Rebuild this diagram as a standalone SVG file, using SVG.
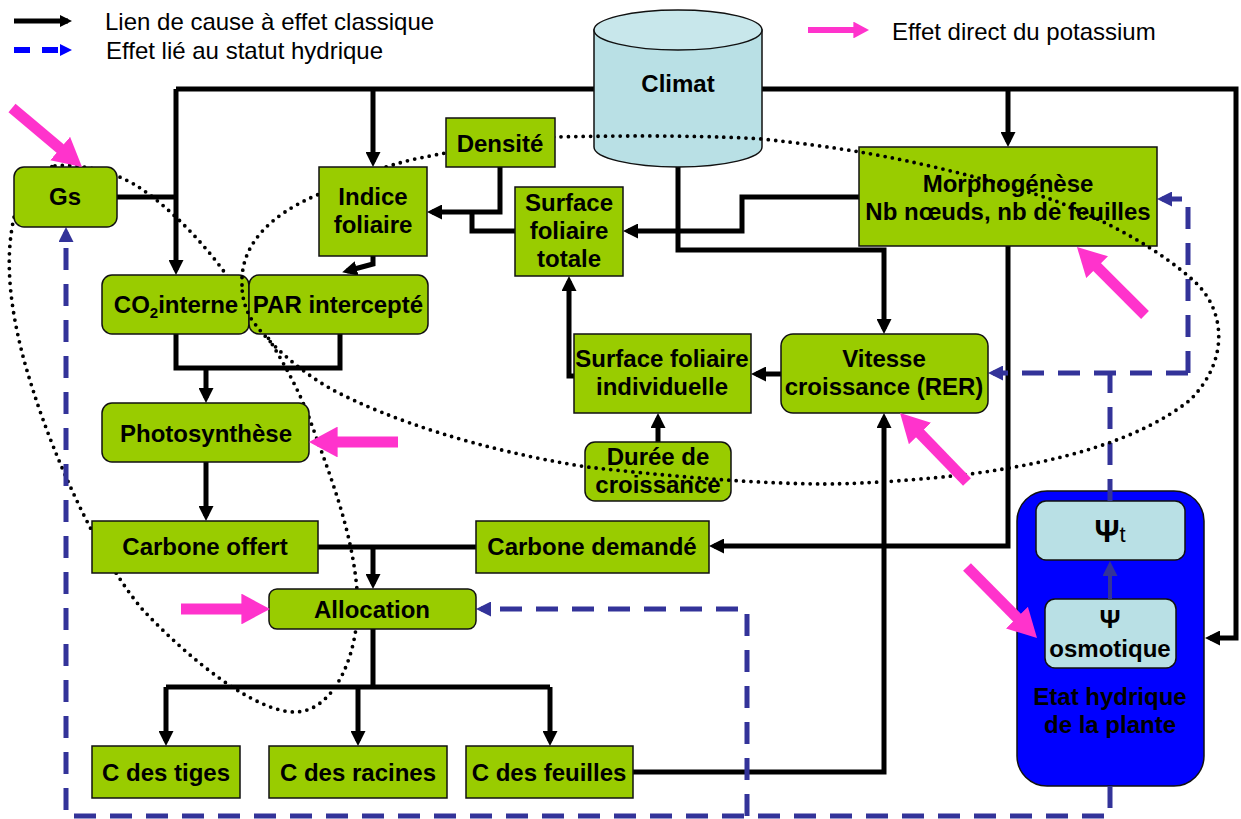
<svg xmlns="http://www.w3.org/2000/svg" width="1241" height="819" viewBox="0 0 1241 819">
<style>
.box{fill:#99CC00;stroke:#111;stroke-width:1.5}
.cy{fill:#B9E0E5;stroke:#111;stroke-width:1.5}
.t{font-family:"Liberation Sans",Arial,sans-serif;font-weight:bold;font-size:24px;text-anchor:middle;fill:#000}
.lg{font-family:"Liberation Sans",Arial,sans-serif;font-size:24px;fill:#000}
.c{fill:none;stroke:#000;stroke-width:5}
.ca{fill:none;stroke:#000;stroke-width:5;marker-end:url(#ab)}
.d{fill:none;stroke:#333399;stroke-width:5;stroke-dasharray:22 14}
.da{fill:none;stroke:#333399;stroke-width:5;stroke-dasharray:22 14;marker-end:url(#ad)}
.pk{fill:none;stroke:#FF33CC;stroke-width:11;marker-end:url(#pk)}
.dot{fill:none;stroke:#000;stroke-width:3.8;stroke-dasharray:0 7.4;stroke-linecap:round}
</style>
<defs>
<marker id="ab" markerUnits="userSpaceOnUse" markerWidth="15" markerHeight="15" refX="10" refY="7.5" orient="auto"><path d="M0,0 L15,7.5 L0,15 z" fill="#000"/></marker>
<marker id="ad" markerUnits="userSpaceOnUse" markerWidth="15" markerHeight="15" refX="10" refY="7.5" orient="auto"><path d="M0,0 L15,7.5 L0,15 z" fill="#333399"/></marker>
<marker id="lb" markerUnits="userSpaceOnUse" markerWidth="12" markerHeight="12" refX="8" refY="6" orient="auto"><path d="M0,0 L12,6 L0,12 z" fill="#000"/></marker>
<marker id="lbl" markerUnits="userSpaceOnUse" markerWidth="12" markerHeight="12" refX="8" refY="6" orient="auto"><path d="M0,0 L12,6 L0,12 z" fill="#0000FF"/></marker>
<marker id="pk" markerUnits="strokeWidth" markerWidth="2.6" markerHeight="2.8" refX="0.1" refY="1.4" orient="auto"><path d="M0,0 L2.6,1.4 L0,2.8 z" fill="#FF33CC"/></marker>
<mask id="mB" maskUnits="userSpaceOnUse" x="0" y="0" width="1241" height="819">
<rect width="1241" height="819" fill="#fff"/>
<rect x="319" y="167" width="108" height="89" fill="#000"/>
<rect x="446" y="118" width="109" height="49" fill="#000"/>
</mask>
</defs>

<!-- legend -->
<g id="legend">
<path d="M14,21 H68" stroke="#000" stroke-width="5" fill="none" marker-end="url(#lb)"/>
<text class="lg" x="105" y="30">Lien de cause à effet classique</text>
<path d="M14,50 H68" stroke="#0000FF" stroke-width="6" stroke-dasharray="16 12" fill="none" marker-end="url(#lbl)"/>
<text class="lg" x="106" y="59">Effet lié au statut hydrique</text>
<path d="M808,30 H854" stroke="#FF33CC" stroke-width="6" fill="none" marker-end="url(#pk)"/>
<text class="lg" x="892" y="40">Effet direct du potassium</text>
</g>

<!-- dotted loop behind nodes -->
<g id="loop-a">
<path class="dot" d="M55,166 C80,163 115,172 137,186 C170,207 205,245 225,273 C250,310 290,365 310,420 C330,475 352,530 357,590 C362,650 335,712 295,712 C255,712 190,660 143,610 C100,560 55,460 33,390 C15,335 5,280 11,235 C16,195 30,170 55,166 Z"/>
</g>

<!-- water-status node (under its dashed link) -->
<g id="etat-hydrique">
<rect x="1017" y="491" width="187" height="295" rx="30" fill="#0000FF" stroke="#111" stroke-width="1.5"/>
<text class="t" x="1110" y="705">Etat hydrique</text>
<text class="t" x="1110" y="733">de la plante</text>
<g id="psi-t">
<rect class="cy" x="1036" y="501" width="149" height="59" rx="10"/>
<text class="t" x="1110" y="542" style="font-size:31px">Ψ<tspan font-weight="normal" font-size="22">t</tspan></text>
</g>
<g id="psi-osmotique">
<rect class="cy" x="1045" y="599" width="131" height="69" rx="10"/>
<text class="t" x="1110" y="628" style="font-size:26px">Ψ</text>
<text class="t" x="1110" y="657">osmotique</text>
</g>
<path d="M1110,599 V566" stroke="#333399" stroke-width="4" fill="none" marker-end="url(#ad)"/>
</g>

<!-- connectors -->
<g id="connectors">
<path class="ca" d="M176,89 H1236 V638 H1210"/>
<path class="ca" d="M176,89 V270"/>
<path class="c" d="M117,197 H176"/>
<path class="ca" d="M373,89 V162"/>
<path class="ca" d="M1008,89 V142"/>
<path class="ca" d="M678,150 V250 H884 V329"/>
<path class="ca" d="M859,197 H742 V231 H628"/>
<path class="ca" d="M500,167 V212 H432"/>
<path class="c" d="M515,231 H472 V212"/>
<path class="ca" d="M373,256 V264 L347,271"/>
<path class="c" d="M176,334 V368 H340 V334"/>
<path class="ca" d="M206,368 V398"/>
<path class="ca" d="M206,462 V516"/>
<path class="c" d="M318,547 H476"/>
<path class="ca" d="M373,547 V584"/>
<path class="ca" d="M1008,246 V546 H714"/>
<path class="c" d="M373,629 V687 M166,687 H550"/>
<path class="ca" d="M166,687 V741"/>
<path class="ca" d="M358,687 V741"/>
<path class="ca" d="M550,687 V741"/>
<path class="ca" d="M633,772 H884 V418"/>
<path class="ca" d="M781,374 H756"/>
<path class="ca" d="M574,376 H569 V281"/>
<path class="ca" d="M658,442 V418"/>
<path class="d" d="M1110,501 V373"/>
<path class="da" d="M1188,373 H993"/>
<path class="da" d="M1188,373 V199 H1162"/>
<path class="da" d="M1110,786 V816 H66 V232"/>
<path class="da" d="M747,816 V609 H481"/>
</g>

<!-- nodes -->
<g id="climat">
<path class="cy" d="M594,30 V147 A84,20 0 0 0 762,147 V30 Z"/>
<ellipse cx="678" cy="30" rx="84" ry="20" fill="#C8E7EB" stroke="#111" stroke-width="1.5"/>
<text class="t" x="678" y="92">Climat</text>
</g>
<g id="gs"><rect class="box" x="14" y="167" width="103" height="60" rx="10"/><text class="t" x="65" y="205">Gs</text></g>
<g id="indice-foliaire"><rect class="box" x="319" y="167" width="108" height="89"/><text class="t" x="373" y="205">Indice</text><text class="t" x="373" y="233">foliaire</text></g>
<g id="densite"><rect class="box" x="446" y="118" width="109" height="49"/><text class="t" x="500" y="152">Densité</text></g>
<g id="surface-foliaire-totale"><rect class="box" x="515" y="187" width="108" height="89"/><text class="t" x="569" y="211">Surface</text><text class="t" x="569" y="239">foliaire</text><text class="t" x="569" y="267">totale</text></g>
<g id="morphogenese"><rect class="box" x="859" y="147" width="298" height="99"/><text class="t" x="1008" y="192">Morphogénèse</text><text class="t" x="1008" y="220">Nb nœuds, nb de feuilles</text></g>
<g id="co2-interne"><rect class="box" x="102" y="275" width="147" height="59" rx="10"/><text class="t" x="176" y="313">CO<tspan font-size="15" dy="5">2</tspan><tspan dy="-5">interne</tspan></text></g>
<g id="par-intercepte"><rect class="box" x="249" y="275" width="179" height="59" rx="10"/><text class="t" x="338" y="313">PAR intercepté</text></g>
<g id="photosynthese"><rect class="box" x="102" y="403" width="207" height="59" rx="10"/><text class="t" x="206" y="442">Photosynthèse</text></g>
<g id="surface-foliaire-individuelle"><rect class="box" x="574" y="334" width="177" height="79"/><text class="t" x="662" y="367">Surface foliaire</text><text class="t" x="662" y="395">individuelle</text></g>
<g id="vitesse-croissance"><rect class="box" x="781" y="334" width="207" height="79" rx="12"/><text class="t" x="884" y="367">Vitesse</text><text class="t" x="884" y="395">croissance (RER)</text></g>
<g id="duree-croissance"><rect class="box" x="585" y="442" width="146" height="59" rx="10"/><text class="t" x="658" y="465">Durée de</text><text class="t" x="658" y="493">croissance</text></g>
<g id="carbone-offert"><rect class="box" x="92" y="521" width="226" height="52"/><text class="t" x="205" y="555">Carbone offert</text></g>
<g id="carbone-demande"><rect class="box" x="476" y="521" width="233" height="52"/><text class="t" x="592" y="555">Carbone demandé</text></g>
<g id="allocation"><rect class="box" x="269" y="589" width="207" height="40" rx="8"/><text class="t" x="372" y="618">Allocation</text></g>
<g id="c-tiges"><rect class="box" x="92" y="746" width="148" height="52"/><text class="t" x="166" y="781">C des tiges</text></g>
<g id="c-racines"><rect class="box" x="269" y="746" width="178" height="52"/><text class="t" x="358" y="781">C des racines</text></g>
<g id="c-feuilles"><rect class="box" x="466" y="746" width="167" height="52"/><text class="t" x="549" y="781">C des feuilles</text></g>

<!-- dotted loop over nodes -->
<g id="loop-b" mask="url(#mB)">
<path class="dot" d="M242,285 C240,245 270,215 317,195 C345,183 380,166 420,158 C460,150 510,140 555,137 C640,135 720,136 762,139 C800,143 830,147 860,152 C920,162 1000,182 1053,200 C1110,222 1160,250 1195,282 C1225,310 1230,360 1190,400 C1140,440 1060,462 970,474 C900,482 850,484 820,484 C740,483 660,475 587,467 C480,450 390,420 333,390 C300,372 265,340 250,317 C244,305 242,295 242,285 Z"/>
</g>

<!-- potassium effects -->
<g id="potassium-arrows">
<path class="pk" d="M12,108 L61,149.3"/>
<path class="pk" d="M398,442 L336.5,442"/>
<path class="pk" d="M181,609 L242.5,609"/>
<path class="pk" d="M1145,315 L1096.4,266.4"/>
<path class="pk" d="M967,482 L919.2,432.7"/>
<path class="pk" d="M967,567 L1017.7,618.4"/>
</g>
</svg>
